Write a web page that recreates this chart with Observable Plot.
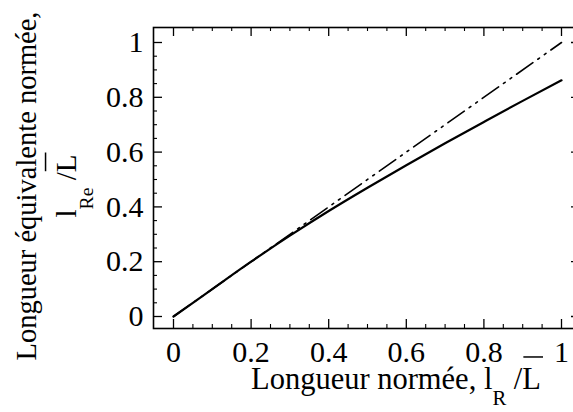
<!DOCTYPE html>
<html><head><meta charset="utf-8">
<script src="https://cdn.jsdelivr.net/npm/d3@7"></script>
<script src="https://cdn.jsdelivr.net/npm/@observablehq/plot@0.6"></script>
<style>html,body{margin:0;padding:0;background:#fff;overflow:hidden}svg{display:block}</style>
</head><body><div id="chart"></div>
<script>
// Data
const lengthX = [0, 0.1, 0.2, 0.3, 0.4, 0.5, 0.6, 0.7, 0.8, 0.9, 1.0];
const equivY  = [0, 0.1, 0.2, 0.295, 0.385, 0.47, 0.552, 0.632, 0.71, 0.787, 0.862];
const refX = [0, 1];
const refY = [0, 1];
const majorTicks = [0, 0.2, 0.4, 0.6, 0.8, 1];
const tickLabels = ["0", "0.2", "0.4", "0.6", "0.8", "1"];
const minorTicks = [0.05, 0.1, 0.15, 0.25, 0.3, 0.35, 0.45, 0.5, 0.55, 0.65, 0.7, 0.75, 0.85, 0.9, 0.95];
const xLabelParts = [{t: "Longueur normée, l"}, {t: "R", sub: true}, {t: " /"}, {t: "L", over: true}];
const yLabelParts1 = [{t: "Longueur équivalente normée,"}];
const yLabelParts2 = [{t: "l"}, {t: "Re", sub: true}, {t: " /"}, {t: "L", over: true}];

const W = 573, H = 412, mL = 153, mR = -7, mT = 27, mB = 84;
const fw = W - mR - mL, fh = H - mT - mB;
const major = 9, minor = 4;
const fmt = d => tickLabels[majorTicks.indexOf(d)];
const FONT = "Liberation Serif, Times New Roman, Times, DejaVu Serif, serif";

const pts = lengthX.map((x, i) => ({x, y: equivY[i]}));
const ref = refX.map((x, i) => ({x, y: refY[i]}));

const plot = Plot.plot({
  width: W, height: H,
  marginLeft: mL, marginRight: mR, marginTop: mT, marginBottom: mB,
  x: {domain: [0, 1], range: [173, 561], label: null},
  y: {domain: [0, 1], range: [316, 42], label: null},
  style: {fontFamily: FONT, fontSize: "30px", background: "white", color: "black"},
  marks: [
    Plot.frame({stroke: "black", strokeWidth: 1.6}),
    Plot.ruleX(majorTicks, {stroke: "black", strokeWidth: 1.3, insetTop: fh - major}),
    Plot.ruleX(majorTicks, {stroke: "black", strokeWidth: 1.3, insetBottom: fh - major}),
    Plot.ruleX(minorTicks, {stroke: "black", strokeWidth: 1.1, insetTop: fh - minor}),
    Plot.ruleX(minorTicks, {stroke: "black", strokeWidth: 1.1, insetBottom: fh - minor}),
    Plot.ruleY(majorTicks, {stroke: "black", strokeWidth: 1.3, insetRight: fw - major}),
    Plot.ruleY(majorTicks, {stroke: "black", strokeWidth: 1.3, insetLeft: fw - major}),
    Plot.ruleY(minorTicks, {stroke: "black", strokeWidth: 1.1, insetRight: fw - minor}),
    Plot.ruleY(minorTicks, {stroke: "black", strokeWidth: 1.1, insetLeft: fw - minor}),
    Plot.axisX(majorTicks, {tickFormat: fmt, tickSize: 0, tickPadding: 12, fontSize: 30, fontFamily: FONT, label: null}),
    Plot.axisY(majorTicks, {tickFormat: fmt, tickSize: 0, tickPadding: 10, fontSize: 30, fontFamily: FONT, label: null}),
    Plot.line(ref, {x: "x", y: "y", stroke: "black", strokeWidth: 1.6, strokeDasharray: "20,6,2,6,2,6"}),
    Plot.line(pts, {x: "x", y: "y", stroke: "black", strokeWidth: 2.2, curve: "monotone-x"})
  ]
});
document.getElementById("chart").appendChild(plot);

// rich labels with subscripts and overlines
const svg = d3.select(plot);
function rich(x, y, rotated, parts, size, subDy) {
  const g = rotated ? svg.append("g").attr("transform", "rotate(-90)") : svg.append("g");
  const tx = rotated ? -y : x, ty = rotated ? x : y;
  const text = g.append("text").attr("x", tx).attr("y", ty).attr("text-anchor", "middle")
    .attr("font-family", FONT).attr("font-size", size).attr("fill", "black");
  let shifted = false, idx = 0; const overIdx = [];
  parts.forEach(p => {
    const ts = text.append("tspan").text(p.t);
    if (p.sub) { ts.attr("font-size", size * 0.68).attr("dy", subDy); shifted = true; }
    else if (shifted) { ts.attr("dy", -subDy); shifted = false; }
    if (p.over) for (let k = 0; k < p.t.length; k++) overIdx.push(idx + k);
    idx += p.t.length;
  });
  const node = text.node();
  if (overIdx.length) {
    const a = node.getExtentOfChar(overIdx[0]);
    const b = node.getExtentOfChar(overIdx[overIdx.length - 1]);
    const yb = ty - size * 1.05;
    g.append("line").attr("x1", a.x + 1).attr("x2", b.x + b.width + 2).attr("y1", yb).attr("y2", yb)
      .attr("stroke", "black").attr("stroke-width", 1.5);
  }
}
rich(396, 389, false, xLabelParts, 30.5, 15.5);
rich(36, 186, true, yLabelParts1, 28.5, 0);
rich(76, 186, true, yLabelParts2, 29, 17);
</script>
</body></html>
